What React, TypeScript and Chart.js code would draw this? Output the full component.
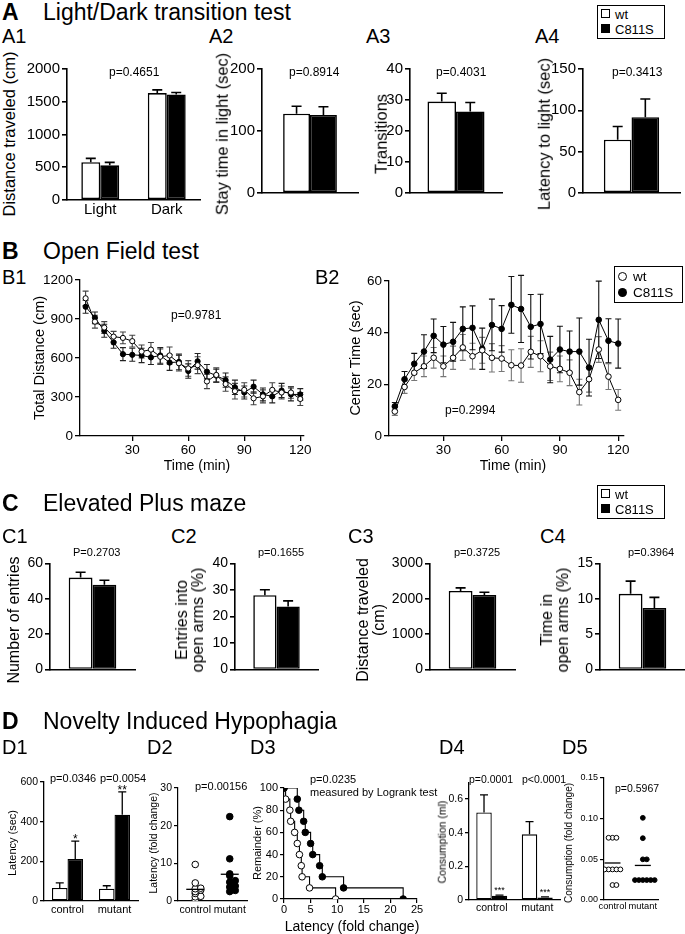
import React, { useEffect, useRef } from 'react';
import { Chart, registerables } from 'chart.js';

Chart.register(...registerables);

const FONT = '"Liberation Sans", Arial, Helvetica, sans-serif';

// ================= DATA =================
// A: Light/Dark transition test
const a1Categories = ['Light', 'Dark'];
const a1Wt = [576, 1632];
const a1WtSem = [60, 50];
const a1Mut = [530, 1611];
const a1MutSem = [45, 30];
const a1Ticks = [0, 500, 1000, 1500, 2000];

const a2Wt = [128];
const a2WtSem = [12];
const a2Mut = [126];
const a2MutSem = [13];
const a2Ticks = [0, 100, 200];

const a3Wt = [29.5];
const a3WtSem = [2.7];
const a3Mut = [26.3];
const a3MutSem = [2.9];
const a3Ticks = [0, 10, 20, 30, 40];

const a4Wt = [64.4];
const a4WtSem = [16];
const a4Mut = [91.7];
const a4MutSem = [22];
const a4Ticks = [0, 50, 100, 150];

// B: Open field test
const bTimes = [5, 10, 15, 20, 25, 30, 35, 40, 45, 50, 55, 60, 65, 70, 75, 80, 85, 90, 95, 100, 105, 110, 115, 120];
const bTimeTicks = [30, 60, 90, 120];
const b1Wt = [1060, 880, 835, 765, 755, 730, 650, 665, 610, 620, 560, 520, 545, 420, 470, 400, 345, 355, 290, 305, 355, 335, 335, 285];
const b1WtSem = [55, 50, 45, 40, 45, 45, 50, 55, 60, 65, 60, 60, 65, 55, 55, 55, 60, 55, 50, 50, 55, 50, 45, 50];
const b1Mut = [995, 910, 810, 720, 630, 625, 620, 605, 620, 565, 570, 500, 575, 495, 465, 430, 375, 335, 380, 320, 305, 350, 320, 320];
const b1MutSem = [50, 45, 50, 45, 50, 50, 55, 55, 60, 60, 60, 55, 60, 55, 50, 55, 55, 50, 50, 50, 50, 55, 50, 45];
const b1Ticks = [0, 300, 600, 900, 1200];

const b2Wt = [9.5, 19, 24.5, 27, 30.3, 27, 30.3, 34.3, 30.9, 33.2, 30.3, 30, 27.4, 27.3, 32.6, 30.9, 27, 26, 24.5, 17, 22, 33.5, 23, 14];
const b2WtSem = [1.5, 2.5, 3, 4, 4, 4, 4.5, 5, 5, 5, 5.5, 5, 6, 6.5, 6, 6, 5.5, 5, 5, 5, 5, 5, 5, 4];
const b2Mut = [11.5, 22, 28, 32.7, 38.8, 35.4, 36.5, 41.5, 41.9, 33.8, 43, 41.5, 50.8, 49.2, 42.3, 43.4, 29.6, 33.5, 32.7, 32.7, 26.5, 45, 36.9, 35.8];
const b2MutSem = [1.5, 3, 4, 6.5, 6.5, 7, 7.5, 8.5, 8.5, 8, 10, 9, 11, 13, 12.5, 11.5, 9, 9, 8, 13, 11, 15, 8.5, 9.5];
const b2Ticks = [0, 20, 40, 60];

// C: Elevated plus maze
const c1Wt = [52]; const c1WtSem = [3]; const c1Mut = [48]; const c1MutSem = [2.5];
const c1Ticks = [0, 20, 40, 60];
const c2Wt = [28]; const c2WtSem = [2.1]; const c2Mut = [23.8]; const c2MutSem = [2.1];
const c2Ticks = [0, 10, 20, 30, 40];
const c3Wt = [2220]; const c3WtSem = [90]; const c3Mut = [2110]; const c3MutSem = [75];
const c3Ticks = [0, 1000, 2000, 3000];
const c4Wt = [10.7]; const c4WtSem = [1.8]; const c4Mut = [8.7]; const c4MutSem = [1.5];
const c4Ticks = [0, 5, 10, 15];

// D: Novelty induced hypophagia
const dGroups = ['control', 'mutant'];
const d1Wt = [66, 62]; const d1WtSem = [25, 15];
const d1Mut = [212, 435]; const d1MutSem = [90, 115];
const d1Stars = ['*', '**'];
const d1Ticks = [0, 200, 400, 600];

const d2Control = [0.3, 1.1, 1.25, 2.0, 2.5, 2.9, 3.25, 3.4, 4.8, 9.7];
const d2Mutant = [2.5, 2.8, 3.7, 4.0, 5.0, 5.4, 6.7, 7.2, 11.2, 22.4];
const d2Means = [3.1, 7.1];
const d2Ticks = [0, 10, 20, 30];

const d3ControlLatency = [0, 0.3, 1.1, 1.25, 2.0, 2.5, 2.9, 3.25, 3.4, 4.8, 9.7];
const d3MutantLatency = [0, 2.5, 2.8, 3.7, 4.0, 5.0, 5.4, 6.7, 7.2, 11.2, 22.4];
const d3Remainder = [100, 90, 80, 70, 60, 50, 40, 30, 20, 10, 0];
const d3XTicks = [0, 5, 10, 15, 20, 25];
const d3YTicks = [0, 20, 40, 60, 80, 100];

const d4Wt = [0.52, 0.39]; const d4WtSem = [0.105, 0.075];
const d4Mut = [0.025, 0.015]; const d4MutSem = [0.004, 0.003];
const d4Stars = ['***', '***'];
const d4Ticks = [0, 0.2, 0.4, 0.6];

const d5Control = [0.0765, 0.0765, 0.0765, 0.0376, 0.0376, 0.0376, 0.0376, 0.0376, 0.0184, 0.0184];
const d5Mutant = [0.101, 0.076, 0.05, 0.05, 0.0245, 0.0245, 0.0245, 0.0245, 0.0245, 0.0245];
const d5Means = [0.0455, 0.0425];
const d5Ticks = [0, 0.05, 0.1, 0.15];

// ================= PLUGIN =================
function drawErr(chart: any, behind: boolean) {
  const ctx = chart.ctx;
  chart.data.datasets.forEach((ds: any, di: number) => {
    if (!ds.errors || !!ds.errBehind !== behind) return;
    const meta = chart.getDatasetMeta(di);
    const ys = chart.scales[meta.yAxisID];
    ctx.save();
    ctx.strokeStyle = ds.errColor || '#000';
    ctx.lineWidth = ds.errWidth || 1;
    ctx.beginPath();
    meta.data.forEach((el: any, i: number) => {
      const e = ds.errors[i];
      if (e == null) return;
      const raw = ds.data[i];
      const v = typeof raw === 'number' ? raw : raw.y;
      const x = el.x;
      const top = ys.getPixelForValue(v + e);
      const bot = ys.getPixelForValue(ds.errBoth ? v - e : v);
      const c = ds.errCap ?? 4;
      ctx.moveTo(x, bot);
      ctx.lineTo(x, top);
      ctx.moveTo(x - c, top);
      ctx.lineTo(x + c, top);
      if (ds.errBoth) {
        ctx.moveTo(x - c, bot);
        ctx.lineTo(x + c, bot);
      }
    });
    ctx.stroke();
    ctx.restore();
  });
}

function drawExtras(chart: any) {
  const ctx = chart.ctx;
  chart.data.datasets.forEach((ds: any, di: number) => {
    const meta = chart.getDatasetMeta(di);
    const ys = chart.scales[meta.yAxisID];
    const xs = chart.scales[meta.xAxisID];
    if (ds.stars) {
      ctx.save();
      ctx.fillStyle = '#000';
      ctx.font = `${ds.starSize}px ${FONT}`;
      ctx.textAlign = 'center';
      ctx.textBaseline = 'alphabetic';
      meta.data.forEach((el: any, i: number) => {
        const s = ds.stars[i];
        if (!s) return;
        const v = ds.data[i] + (ds.errors ? ds.errors[i] : 0);
        const yc = ys.getPixelForValue(v) - ds.starGap;
        ctx.fillText(s, el.x, yc + 0.57 * ds.starSize);
      });
      ctx.restore();
    }
    if (ds.mean != null) {
      const x = xs.getPixelForValue(ds.meanX);
      const y = ys.getPixelForValue(ds.mean);
      ctx.save();
      ctx.strokeStyle = '#000';
      ctx.lineWidth = 1.3;
      ctx.beginPath();
      ctx.moveTo(x - ds.meanHalf, y);
      ctx.lineTo(x + ds.meanHalf, y);
      ctx.stroke();
      ctx.restore();
    }
  });
}

const annotPlugin = {
  id: 'annot',
  beforeDatasetsDraw(chart: any) { drawErr(chart, true); },
  afterDatasetsDraw(chart: any) { drawErr(chart, false); drawExtras(chart); },
};

// ================= HELPERS =================
function swarm(values: number[], tol: number, step: number): number[] {
  const order = values.map((_, i) => i).sort((a, b) => values[a] - values[b]);
  const placed: { v: number; o: number }[] = [];
  const out = values.map(() => 0);
  for (const i of order) {
    const v = values[i];
    for (let k = 0; k < 30; k++) {
      const o = k === 0 ? 0 : (k % 2 ? 1 : -1) * Math.ceil(k / 2) * step;
      if (!placed.some((p) => Math.abs(p.v - v) < tol && Math.abs(p.o - o) < step * 0.99)) {
        out[i] = o;
        placed.push({ v, o });
        break;
      }
    }
  }
  return out;
}

function yScale(o: any) {
  return {
    type: 'linear',
    min: o.min ?? 0,
    max: o.max,
    afterFit: (s: any) => { s.width = o.yw; },
    afterBuildTicks: (s: any) => { s.ticks = o.ticks.map((v: number) => ({ value: v })); },
    border: { display: true, color: '#000', width: o.lw },
    grid: { display: true, drawOnChartArea: false, drawTicks: true, tickLength: o.tick ?? 5, color: '#000', lineWidth: o.lw },
    ticks: {
      color: '#000',
      font: { family: FONT, size: o.size },
      padding: o.pad ?? 2,
      callback: (v: number) => (o.fmt ? o.fmt(v) : String(v)),
    },
  };
}

function catX(o: any) {
  return {
    type: 'category',
    offset: true,
    afterFit: (s: any) => { s.height = o.xh; },
    border: { display: true, color: '#000', width: o.lw },
    grid: { display: false, drawTicks: false },
    ticks: {
      display: !!o.show,
      color: '#000',
      font: { family: FONT, size: o.size ?? 12 },
      padding: o.pad ?? 2,
      maxRotation: 0,
      autoSkip: false,
    },
  };
}

function linX(o: any) {
  return {
    type: 'linear',
    min: o.min,
    max: o.max,
    afterFit: (s: any) => { s.height = o.xh; },
    afterBuildTicks: (s: any) => { s.ticks = o.ticks.map((v: number) => ({ value: v })); },
    border: { display: true, color: '#000', width: o.lw },
    grid: o.marks
      ? { display: true, drawOnChartArea: false, drawTicks: true, tickLength: o.tick ?? 5, color: '#000', lineWidth: o.lw }
      : { display: false, drawTicks: false },
    ticks: {
      color: '#000',
      font: { family: FONT, size: o.size },
      padding: o.pad ?? 1,
      maxRotation: 0,
      autoSkip: false,
      callback: (v: number) => (o.fmt ? o.fmt(v) : String(v)),
    },
  };
}

function baseOptions(scales: any) {
  return {
    responsive: false,
    maintainAspectRatio: false,
    animation: false,
    devicePixelRatio: 1,
    events: [],
    plugins: { legend: { display: false }, tooltip: { enabled: false }, title: { display: false } },
    scales,
  };
}

function barConfig(p: any) {
  const common = {
    borderColor: '#000',
    borderWidth: p.lw,
    borderSkipped: false,
    categoryPercentage: p.catPct,
    barPercentage: 1,
    errWidth: p.lw,
    errCap: p.cap,
  };
  return {
    type: 'bar',
    data: {
      labels: p.labels,
      datasets: [
        { ...common, label: 'wt', data: p.wt, backgroundColor: '#fff', errors: p.wtSem },
        { ...common, label: 'C811S', data: p.mut, backgroundColor: '#000', errors: p.mutSem, stars: p.stars, starSize: p.starSize, starGap: p.starGap },
      ],
    },
    options: baseOptions({
      x: catX({ xh: p.xh, lw: p.lw, show: p.showX, size: p.xSize, pad: p.xPad }),
      y: yScale({ max: p.max, ticks: p.ticks, yw: p.yw, lw: p.lw, size: p.tickSize, fmt: p.fmt, tick: p.tickLen, pad: p.tickPad }),
    }),
    plugins: [annotPlugin],
  };
}

function timeConfig(p: any) {
  const mk = (vals: number[], sem: number[], fill: string, errColor: string) => ({
    data: bTimes.map((t, i) => ({ x: t, y: vals[i] })),
    borderColor: '#000',
    borderWidth: 1,
    pointRadius: p.r,
    pointBackgroundColor: fill,
    pointBorderColor: '#000',
    pointBorderWidth: 1,
    tension: 0,
    errors: sem,
    errBoth: true,
    errBehind: true,
    errColor,
    errWidth: 1.1,
    errCap: p.cap,
  });
  return {
    type: 'line',
    data: {
      datasets: [
        { ...mk(p.wt, p.wtSem, '#fff', p.wtErrColor), label: 'wt' },
        { ...mk(p.mut, p.mutSem, '#000', p.mutErrColor), label: 'C811S' },
      ],
    },
    options: baseOptions({
      x: linX({ min: p.xmin, max: p.xmax, ticks: bTimeTicks, xh: p.xh, lw: 1.3, size: 13.5, marks: true, tick: 5, pad: 1 }),
      y: yScale({ max: p.ymax, ticks: p.yticks, yw: p.yw, lw: 1.3, size: 13.5, tick: 5, pad: 2 }),
    }),
    plugins: [annotPlugin],
  };
}

type Area = { x0: number; y0: number; x1: number; y1: number; yw: number; xh: number; pt?: number; pr?: number };

function ChartPanel({ area, make }: { area: Area; make: () => any }) {
  const ref = useRef<HTMLCanvasElement>(null);
  const pt = area.pt ?? 10;
  const pr = area.pr ?? 12;
  const l = area.x0 - area.yw;
  const t = area.y0 - pt;
  const w = area.x1 - l + pr;
  const h = area.y1 - t + area.xh;
  useEffect(() => {
    const cfg = make();
    cfg.options.layout = { padding: { top: pt, right: pr, left: 0, bottom: 0 } };
    const ch = new Chart(ref.current as HTMLCanvasElement, cfg);
    return () => ch.destroy();
  }, []);
  return (
    <canvas
      ref={ref}
      width={w}
      height={h}
      style={{ position: 'absolute', left: l, top: t, width: w, height: h }}
    />
  );
}

function T({ x, y, s, b, a, rot, children }: any) {
  const tx = rot || a === 'c' ? '-50%' : a === 'r' ? '-100%' : '0';
  return (
    <div
      style={{
        position: 'absolute',
        left: x,
        top: y,
        fontSize: s,
        fontWeight: b ? 'bold' : 'normal',
        lineHeight: 1,
        whiteSpace: 'pre',
        textAlign: 'center',
        fontFamily: FONT,
        color: '#000',
        transform: `translate(${tx}, -50%)${rot ? ' rotate(-90deg)' : ''}`,
      }}
    >
      {children}
    </div>
  );
}

function SquareLegend({ x, y }: { x: number; y: number }) {
  return (
    <>
      <div style={{ position: 'absolute', left: x, top: y, width: 68, height: 34, border: '1.5px solid #000', boxSizing: 'border-box' }} />
      <div style={{ position: 'absolute', left: x + 4, top: y + 4, width: 9, height: 9, border: '1.3px solid #000', background: '#fff', boxSizing: 'border-box' }} />
      <div style={{ position: 'absolute', left: x + 4, top: y + 19, width: 9, height: 9, background: '#000' }} />
      <T x={x + 18} y={y + 8.5} s={13}>wt</T>
      <T x={x + 18} y={y + 23.5} s={13}>C811S</T>
    </>
  );
}

function CircleLegend({ x, y }: { x: number; y: number }) {
  return (
    <>
      <div style={{ position: 'absolute', left: x, top: y, width: 69, height: 37, border: '1.5px solid #000', boxSizing: 'border-box' }} />
      <div style={{ position: 'absolute', left: x + 4, top: y + 6, width: 9, height: 9, borderRadius: '50%', border: '1.3px solid #000', background: '#fff', boxSizing: 'border-box' }} />
      <div style={{ position: 'absolute', left: x + 4, top: y + 22, width: 9, height: 9, borderRadius: '50%', background: '#000' }} />
      <T x={x + 19} y={y + 10.5} s={13.5}>wt</T>
      <T x={x + 19} y={y + 26.5} s={13.5}>C811S</T>
    </>
  );
}

// ================= APP =================
export default function App() {
  useEffect(() => {
    document.body.style.margin = '0';
  }, []);

  const aBar = (labels: string[], wt: number[], wtSem: number[], mut: number[], mutSem: number[], max: number, ticks: number[], catPct: number, showX: boolean, yw: number, xh: number) =>
    barConfig({ labels, wt, wtSem, mut, mutSem, max, ticks, catPct, showX, xSize: 15, xPad: 1, tickSize: 15, lw: 1.6, cap: 5, yw, xh, tickLen: 5, tickPad: 2 });

  const cBar = (wt: number[], wtSem: number[], mut: number[], mutSem: number[], max: number, ticks: number[], yw: number) =>
    barConfig({ labels: [''], wt, wtSem, mut, mutSem, max, ticks, catPct: 0.56, showX: false, tickSize: 14, lw: 1.6, cap: 5, yw, xh: 4, tickLen: 5, tickPad: 2 });

  const dScatter = (ctrl: number[], mut: number[], means: number[], p: any) => {
    const oc = swarm(ctrl, p.tol, p.step);
    const om = swarm(mut, p.tol, p.step);
    return {
      type: 'scatter',
      data: {
        datasets: [
          { data: mut.map((v, i) => ({ x: 1 + om[i], y: v })), pointRadius: p.r, pointBackgroundColor: '#000', pointBorderColor: '#000', pointBorderWidth: 1, mean: means[1], meanX: 1, meanHalf: p.mh },
          { data: ctrl.map((v, i) => ({ x: 0 + oc[i], y: v })), pointRadius: p.r, pointBackgroundColor: '#fff', pointBorderColor: '#000', pointBorderWidth: 1, mean: means[0], meanX: 0, meanHalf: p.mh },
        ],
      },
      options: baseOptions({
        x: linX({ min: p.xmin, max: p.xmax, ticks: [0, 1], xh: p.xh, lw: 1.2, size: p.xSize, marks: false, pad: p.xPad, fmt: (v: number) => dGroups[v] ?? '' }),
        y: yScale({ max: p.max, ticks: p.ticks, yw: p.yw, lw: 1.2, size: p.tickSize, fmt: p.fmt, tick: 4, pad: 2 }),
      }),
      plugins: [annotPlugin],
    };
  };

  return (
    <div style={{ position: 'absolute', left: 0, top: 0, width: 685, height: 934, background: '#fff', overflow: 'hidden', fontFamily: FONT }}>
      {/* ---------- A ---------- */}
      <ChartPanel area={{ x0: 67, y0: 68, x1: 200, y1: 200, yw: 45, xh: 24 }}
        make={() => aBar(a1Categories, a1Wt, a1WtSem, a1Mut, a1MutSem, 2000, a1Ticks, 0.57, true, 45, 24)} />
      <ChartPanel area={{ x0: 262, y0: 68, x1: 358, y1: 200, yw: 40, xh: 4 }}
        make={() => aBar([''], a2Wt, a2WtSem, a2Mut, a2MutSem, 200, a2Ticks, 0.56, false, 40, 4)} />
      <ChartPanel area={{ x0: 410, y0: 68, x1: 502, y1: 200, yw: 35, xh: 4 }}
        make={() => aBar([''], a3Wt, a3WtSem, a3Mut, a3MutSem, 40, a3Ticks, 0.62, false, 35, 4)} />
      <ChartPanel area={{ x0: 583, y0: 68, x1: 680, y1: 200, yw: 40, xh: 4, pr: 4 }}
        make={() => aBar([''], a4Wt, a4WtSem, a4Mut, a4MutSem, 150, a4Ticks, 0.57, false, 40, 4)} />

      {/* ---------- B ---------- */}
      <ChartPanel area={{ x0: 80, y0: 280, x1: 304, y1: 436, yw: 42, xh: 24 }}
        make={() => timeConfig({ wt: b1Wt, wtSem: b1WtSem, mut: b1Mut, mutSem: b1MutSem, xmin: 2, xmax: 122, ymax: 1200, yticks: b1Ticks, yw: 42, xh: 24, r: 2.6, cap: 3, wtErrColor: '#444', mutErrColor: '#222' })} />
      <ChartPanel area={{ x0: 389, y0: 281, x1: 624, y1: 436, yw: 35, xh: 24, pr: 8 }}
        make={() => timeConfig({ wt: b2Wt, wtSem: b2WtSem, mut: b2Mut, mutSem: b2MutSem, xmin: 2, xmax: 123, ymax: 60, yticks: b2Ticks, yw: 35, xh: 24, r: 2.8, cap: 3, wtErrColor: '#777', mutErrColor: '#111' })} />

      {/* ---------- C ---------- */}
      <ChartPanel area={{ x0: 50, y0: 563, x1: 135, y1: 676, yw: 35, xh: 4 }}
        make={() => cBar(c1Wt, c1WtSem, c1Mut, c1MutSem, 60, c1Ticks, 35)} />
      <ChartPanel area={{ x0: 235, y0: 563, x1: 318, y1: 676, yw: 30, xh: 4 }}
        make={() => cBar(c2Wt, c2WtSem, c2Mut, c2MutSem, 40, c2Ticks, 30)} />
      <ChartPanel area={{ x0: 430, y0: 563, x1: 515, y1: 676, yw: 45, xh: 4 }}
        make={() => cBar(c3Wt, c3WtSem, c3Mut, c3MutSem, 3000, c3Ticks, 45)} />
      <ChartPanel area={{ x0: 600, y0: 563, x1: 685, y1: 676, yw: 30, xh: 4, pr: 0 }}
        make={() => cBar(c4Wt, c4WtSem, c4Mut, c4MutSem, 15, c4Ticks, 30)} />

      {/* ---------- D ---------- */}
      <ChartPanel area={{ x0: 44, y0: 782, x1: 138, y1: 901, yw: 30, xh: 18 }}
        make={() => barConfig({ labels: dGroups, wt: d1Wt, wtSem: d1WtSem, mut: d1Mut, mutSem: d1MutSem, max: 600, ticks: d1Ticks, catPct: 0.66, showX: true, xSize: 11, xPad: 2.5, tickSize: 10.5, lw: 1.3, cap: 4, yw: 30, xh: 18, tickLen: 4, tickPad: 2, stars: d1Stars, starSize: 12, starGap: 5 })} />
      <ChartPanel area={{ x0: 178, y0: 788, x1: 247, y1: 901, yw: 24, xh: 18 }}
        make={() => dScatter(d2Control, d2Mutant, d2Means, { tol: 0.5, step: 0.16, r: 3.3, mh: 9, xmin: -0.5, xmax: 1.5, xh: 18, xSize: 10.5, xPad: 2.5, max: 30, ticks: d2Ticks, yw: 24, tickSize: 10.5 })} />
      <ChartPanel area={{ x0: 284, y0: 788, x1: 417, y1: 899, yw: 26, xh: 20 }}
        make={() => ({
          type: 'line',
          data: {
            datasets: [
              { label: 'mutant', data: d3MutantLatency.map((x, i) => ({ x, y: d3Remainder[i] })), stepped: true, borderColor: '#000', borderWidth: 1.1, pointRadius: 3.3, pointBackgroundColor: '#000', pointBorderColor: '#000', pointBorderWidth: 1 },
              { label: 'control', data: d3ControlLatency.map((x, i) => ({ x, y: d3Remainder[i] })), stepped: true, borderColor: '#000', borderWidth: 1.1, pointRadius: 3.3, pointBackgroundColor: '#fff', pointBorderColor: '#000', pointBorderWidth: 1 },
            ],
          },
          options: baseOptions({
            x: linX({ min: 0, max: 25, ticks: d3XTicks, xh: 20, lw: 1.2, size: 11, marks: true, tick: 4, pad: 0 }),
            y: yScale({ max: 100, ticks: d3YTicks, yw: 26, lw: 1.2, size: 11, tick: 4, pad: 2 }),
          }),
          plugins: [annotPlugin],
        })} />
      <ChartPanel area={{ x0: 469, y0: 783, x1: 560, y1: 900, yw: 26, xh: 18 }}
        make={() => barConfig({ labels: dGroups, wt: d4Wt, wtSem: d4WtSem, mut: d4Mut, mutSem: d4MutSem, max: 0.695, ticks: d4Ticks, catPct: 0.68, showX: true, xSize: 10.5, xPad: 2, tickSize: 10.5, lw: 1.3, cap: 4, yw: 26, xh: 18, tickLen: 4, tickPad: 2, fmt: (v: number) => (v === 0 ? '0' : v.toFixed(1)), stars: d4Stars, starSize: 9, starGap: 7 })} />
      <ChartPanel area={{ x0: 604, y0: 778, x1: 658, y1: 900, yw: 28, xh: 16, pr: 12 }}
        make={() => dScatter(d5Control, d5Mutant, d5Means, { tol: 0.004, step: 0.13, r: 2.4, mh: 8, xmin: -0.28, xmax: 1.5, xh: 16, xSize: 9.3, xPad: 1, max: 0.15, ticks: d5Ticks, yw: 28, tickSize: 9, fmt: (v: number) => v.toFixed(2) })} />

      {/* ---------- Text: A ---------- */}
      <T x={2} y={12} s={23} b>A</T>
      <T x={43} y={12} s={23}>Light/Dark transition test</T>
      <SquareLegend x={597} y={5} />
      <T x={2} y={36} s={20}>A1</T>
      <T x={209} y={36} s={20}>A2</T>
      <T x={366} y={36} s={20}>A3</T>
      <T x={535} y={36} s={20}>A4</T>
      <T x={109} y={72} s={12}>p=0.4651</T>
      <T x={289} y={72} s={12}>p=0.8914</T>
      <T x={436} y={72} s={12}>p=0.4031</T>
      <T x={612} y={72} s={12}>p=0.3413</T>
      <T x={9} y={134} s={16.5} rot>Distance traveled (cm)</T>
      <T x={222} y={134} s={16.5} rot>Stay time in light (sec)</T>
      <T x={381} y={134} s={16.5} rot>Transitions</T>
      <T x={544} y={134} s={16.5} rot>Latency to light (sec)</T>

      {/* ---------- Text: B ---------- */}
      <T x={2} y={251} s={23} b>B</T>
      <T x={43} y={251} s={23}>Open Field test</T>
      <T x={2} y={277} s={20}>B1</T>
      <T x={315} y={277} s={20}>B2</T>
      <T x={171} y={315} s={12}>p=0.9781</T>
      <T x={445} y={410} s={12}>p=0.2994</T>
      <T x={197} y={465} s={14} a="c">Time (min)</T>
      <T x={513} y={465} s={14} a="c">Time (min)</T>
      <T x={39} y={358} s={14.5} rot>Total Distance (cm)</T>
      <T x={355} y={358} s={14.5} rot>Center Time (sec)</T>
      <CircleLegend x={614} y={266} />

      {/* ---------- Text: C ---------- */}
      <T x={2} y={503} s={23} b>C</T>
      <T x={43} y={503} s={23}>Elevated Plus maze</T>
      <SquareLegend x={597} y={485} />
      <T x={2} y={536} s={20}>C1</T>
      <T x={171} y={536} s={20}>C2</T>
      <T x={348} y={536} s={20}>C3</T>
      <T x={540} y={536} s={20}>C4</T>
      <T x={73} y={552} s={11}>P=0.2703</T>
      <T x={258} y={552} s={11}>p=0.1655</T>
      <T x={454} y={552} s={11}>p=0.3725</T>
      <T x={628} y={552} s={11}>p=0.3964</T>
      <T x={14} y={620} s={16} rot>Number of entries</T>
      <T x={190} y={620} s={16} rot>{'Entries into\nopen arms (%)'}</T>
      <T x={371} y={620} s={16} rot>{'Distance traveled\n(cm)'}</T>
      <T x={555} y={620} s={16} rot>{'Time in\nopen arms (%)'}</T>

      {/* ---------- Text: D ---------- */}
      <T x={2} y={721} s={23} b>D</T>
      <T x={43} y={721} s={23}>Novelty Induced Hypophagia</T>
      <T x={2} y={747} s={20}>D1</T>
      <T x={147} y={747} s={20}>D2</T>
      <T x={250} y={747} s={20}>D3</T>
      <T x={439} y={747} s={20}>D4</T>
      <T x={562} y={747} s={20}>D5</T>
      <T x={50} y={778} s={11}>p=0.0346</T>
      <T x={100} y={778} s={11}>p=0.0054</T>
      <T x={12} y={843} s={11} rot>Latency (sec)</T>
      <T x={195} y={786} s={11}>p=0.00156</T>
      <T x={153} y={843} s={10.5} rot>Latency (fold change)</T>
      <T x={310} y={779} s={11}>p=0.0235</T>
      <T x={310} y={792} s={11}>measured by Logrank test</T>
      <T x={352} y={926} s={14} a="c">Latency (fold change)</T>
      <T x={257} y={843} s={11} rot>Remainder (%)</T>
      <T x={469} y={779} s={10.5}>p=0.0001</T>
      <T x={522} y={779} s={10.5}>p&lt;0.0001</T>
      <T x={442} y={842} s={10.5} rot>Consumption (ml)</T>
      <T x={615} y={788} s={10.5}>p=0.5967</T>
      <T x={569} y={843} s={10} rot>Consumption (fold change)</T>
    </div>
  );
}
